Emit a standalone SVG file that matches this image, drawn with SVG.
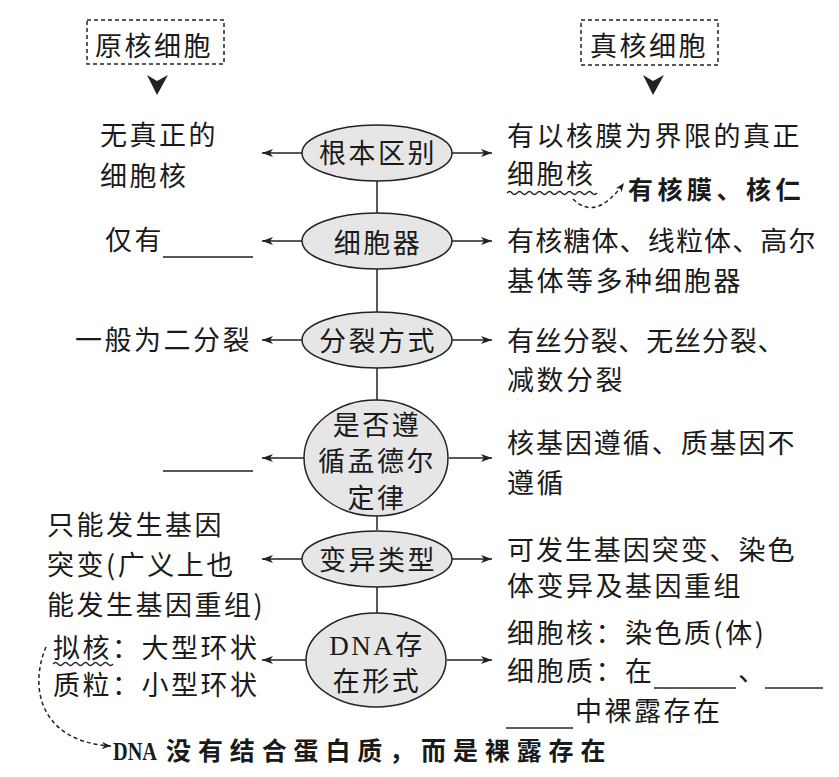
<svg xmlns="http://www.w3.org/2000/svg" width="839" height="777" viewBox="0 0 839 777">
<style>
.t{font-family:"Noto Sans CJK SC",sans-serif;font-size:27px;letter-spacing:2.5px;fill:#1a1a1a}
.c{text-anchor:middle}
.lat{font-family:"Liberation Serif","Noto Sans CJK SC",serif}
.b{font-weight:bold;font-size:25px;letter-spacing:4.5px}
.node ellipse{fill:#e6e6e6;stroke:#222;stroke-width:1.5}
.conn line,.conn path{stroke:#222;stroke-width:1.5;fill:none}
.dash{stroke-dasharray:4 3}
.box{fill:none;stroke:#222;stroke-width:1.5;stroke-dasharray:4 3}
.blank line{stroke:#222;stroke-width:1.5}
.wave{fill:none;stroke:#222;stroke-width:1.3}
</style>
<defs>
<marker id="ah" markerUnits="userSpaceOnUse" markerWidth="12" markerHeight="8" refX="11" refY="4" orient="auto">
<path d="M0,0 L11,4 L0,8 L3,4 Z" fill="#222"/>
</marker>
<marker id="ahs" markerUnits="userSpaceOnUse" markerWidth="10" markerHeight="8" refX="9" refY="3.5" orient="auto">
<path d="M0,0 L9,3.5 L0,7 L2.5,3.5 Z" fill="#222"/>
</marker>
</defs>
<rect width="839" height="777" fill="#fff"/>

<g id="head-prokaryote">
<rect class="box" x="87" y="20" width="137" height="44"/>
<text class="t" x="95" y="56">原核细胞</text>
<path d="M147,75 L157,81 L168,75 L157,95 Z" fill="#222"/>
</g>
<g id="head-eukaryote">
<rect class="box" x="581" y="20" width="137" height="45"/>
<text class="t" x="590" y="56">真核细胞</text>
<path d="M643,75 L653,81 L664,75 L653,95 Z" fill="#222"/>
</g>

<g class="conn" id="connectors">
<line x1="377" y1="181" x2="377" y2="213"/>
<line x1="377" y1="269" x2="377" y2="312"/>
<line x1="377" y1="368" x2="377" y2="400"/>
<line x1="377" y1="516" x2="377" y2="530"/>
<line x1="377" y1="587" x2="377" y2="613"/>
<line x1="302" y1="153" x2="262" y2="153" marker-end="url(#ah)"/>
<line x1="452" y1="153" x2="492" y2="153" marker-end="url(#ah)"/>
<line x1="302" y1="241" x2="262" y2="241" marker-end="url(#ah)"/>
<line x1="452" y1="241" x2="492" y2="241" marker-end="url(#ah)"/>
<line x1="302" y1="340" x2="262" y2="340" marker-end="url(#ah)"/>
<line x1="452" y1="340" x2="492" y2="340" marker-end="url(#ah)"/>
<line x1="304" y1="458" x2="262" y2="458" marker-end="url(#ah)"/>
<line x1="449" y1="458" x2="492" y2="458" marker-end="url(#ah)"/>
<line x1="302" y1="559" x2="262" y2="559" marker-end="url(#ah)"/>
<line x1="452" y1="559" x2="492" y2="559" marker-end="url(#ah)"/>
<line x1="306" y1="660" x2="262" y2="660" marker-end="url(#ah)"/>
<line x1="447" y1="660" x2="492" y2="660" marker-end="url(#ah)"/>
<path class="dash" d="M573,199 Q596,222 624,183" marker-end="url(#ahs)"/>
<path class="dash" d="M46,647 C28,690 42,742 111,746" marker-end="url(#ahs)"/>
</g>

<g id="n-fundamental" class="node">
<ellipse cx="377" cy="153" rx="75" ry="28"/>
<text class="t c" x="378" y="163">根本区别</text>
</g>
<g id="n-organelle" class="node">
<ellipse cx="377" cy="241" rx="75" ry="28"/>
<text class="t c" x="378" y="253">细胞器</text>
</g>
<g id="n-division" class="node">
<ellipse cx="377" cy="340" rx="75" ry="28"/>
<text class="t c" x="378" y="351">分裂方式</text>
</g>
<g id="n-mendel" class="node">
<ellipse cx="376" cy="458" rx="72" ry="58"/>
<text class="t c" x="377" y="435">是否遵</text>
<text class="t c" x="377" y="471">循孟德尔</text>
<text class="t c" x="377" y="508">定律</text>
</g>
<g id="n-variation" class="node">
<ellipse cx="377" cy="559" rx="75" ry="28"/>
<text class="t c" x="378" y="570">变异类型</text>
</g>
<g id="n-dna" class="node">
<ellipse cx="376" cy="660" rx="70" ry="47"/>
<text class="t c lat" x="377" y="655">DNA存</text>
<text class="t c" x="377" y="691">在形式</text>
</g>

<g id="l-fundamental">
<text class="t" x="100" y="145">无真正的</text>
<text class="t" x="100" y="186">细胞核</text>
</g>
<g id="l-organelle">
<text class="t" x="105" y="250">仅有</text>
</g>
<g id="l-division">
<text class="t" x="75" y="350">一般为二分裂</text>
</g>
<g id="l-variation">
<text class="t" x="47" y="535">只能发生基因</text>
<text class="t" x="47" y="575">突变(广义上也</text>
<text class="t" x="47" y="615">能发生基因重组)</text>
</g>
<g id="l-dna">
<text class="t" x="53" y="658">拟核：大型环状</text>
<text class="t" x="53" y="695">质粒：小型环状</text>
<path class="wave" d="M53,664 q2.5,-3 5,0 t5,0 t5,0 t5,0 t5,0 t5,0 t5,0 t5,0 t5,0 t5,0 t5,0 t5,0"/>
</g>
<g id="note-dna">
<text class="lat" x="113" y="760" textLength="44" lengthAdjust="spacingAndGlyphs" style="font-size:25px;font-weight:bold;fill:#1a1a1a">DNA</text>
<text class="t b" x="166" y="760" textLength="444" lengthAdjust="spacing">没有结合蛋白质，而是裸露存在</text>
</g>

<g id="r-fundamental">
<text class="t" x="507" y="146">有以核膜为界限的真正</text>
<text class="t" x="507" y="184">细胞核</text>
<path class="wave" d="M507,193 q2.5,-3 5,0 t5,0 t5,0 t5,0 t5,0 t5,0 t5,0 t5,0 t5,0 t5,0 t5,0 t5,0 t5,0 t5,0 t5,0 t5,0 t5,0 t5,0"/>
</g>
<g id="note-nucleus">
<text class="t b" x="628" y="199">有核膜、核仁</text>
</g>
<g id="r-organelle">
<text class="t" x="507" y="251" textLength="311" lengthAdjust="spacing">有核糖体、线粒体、高尔</text>
<text class="t" x="507" y="291">基体等多种细胞器</text>
</g>
<g id="r-division">
<text class="t" x="507" y="351" textLength="280" lengthAdjust="spacing">有丝分裂、无丝分裂、</text>
<text class="t" x="507" y="390">减数分裂</text>
</g>
<g id="r-mendel">
<text class="t" x="507" y="453" textLength="290" lengthAdjust="spacing">核基因遵循、质基因不</text>
<text class="t" x="507" y="493">遵循</text>
</g>
<g id="r-variation">
<text class="t" x="507" y="560" textLength="290" lengthAdjust="spacing">可发生基因突变、染色</text>
<text class="t" x="507" y="596">体变异及基因重组</text>
</g>
<g id="r-dna">
<text class="t" x="507" y="643">细胞核：染色质(体)</text>
<text class="t" x="507" y="681">细胞质：在</text>
<text class="t" x="738" y="681">、</text>
<text class="t" x="575" y="721">中裸露存在</text>
</g>

<g class="blank" id="blanks">
<line x1="163" y1="257" x2="253" y2="257"/>
<line x1="163" y1="471" x2="253" y2="471"/>
<line x1="654" y1="688" x2="736" y2="688"/>
<line x1="765" y1="688" x2="823" y2="688"/>
<line x1="506" y1="728" x2="573" y2="728"/>
</g>
</svg>
